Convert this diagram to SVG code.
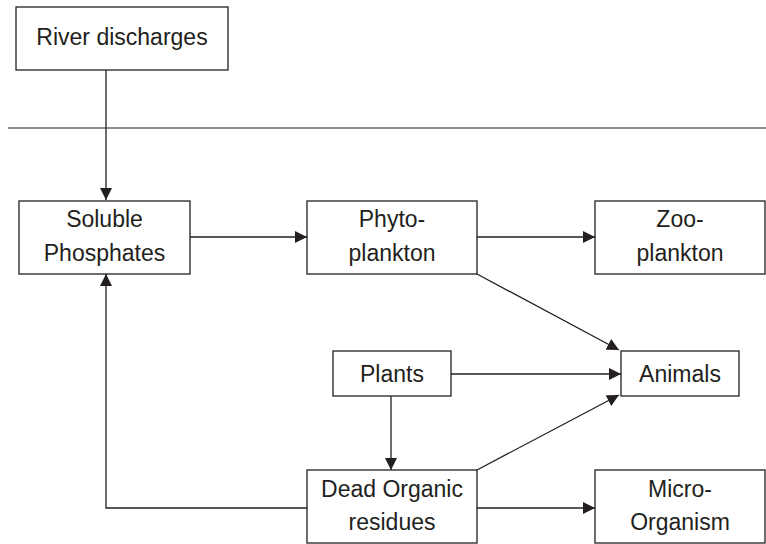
<svg xmlns="http://www.w3.org/2000/svg" width="766" height="544" viewBox="0 0 766 544">
<defs>
<marker id="ah" viewBox="0 0 12 12" refX="12" refY="6" markerWidth="12" markerHeight="12" markerUnits="userSpaceOnUse" orient="auto">
<path d="M0,0 L12,6 L0,12 Z" fill="#231f20"/>
</marker>
<style>
.box{fill:#fff;stroke:#231f20;stroke-width:1.3}
.t{font-family:"Liberation Sans",Arial,sans-serif;font-size:23px;fill:#231f20;text-anchor:middle}
.c{fill:none;stroke:#231f20;stroke-width:1.3}
</style>
</defs>
<rect width="766" height="544" fill="#fff"/>
<line x1="8" y1="128" x2="766" y2="128" stroke="#231f20" stroke-width="1.2"/>
<g id="connectors">
<path class="c" d="M106,70 V200" marker-end="url(#ah)"/>
<path class="c" d="M190,237 H307" marker-end="url(#ah)"/>
<path class="c" d="M477,237 H595" marker-end="url(#ah)"/>
<path class="c" d="M477,274 L619,350" marker-end="url(#ah)"/>
<path class="c" d="M451,374 H621" marker-end="url(#ah)"/>
<path class="c" d="M477,470 L619,395" marker-end="url(#ah)"/>
<path class="c" d="M391,396 V470" marker-end="url(#ah)"/>
<path class="c" d="M477,508 H595" stroke-width="2" marker-end="url(#ah)"/>
<path class="c" d="M307,508 H106 V274" marker-end="url(#ah)"/>
</g>
<g id="river"><rect class="box" x="16" y="7" width="212" height="63"/><text class="t" x="122" y="45">River discharges</text></g>
<g id="soluble"><rect class="box" x="19" y="201" width="171" height="73"/><text class="t" x="104.5" y="227">Soluble</text><text class="t" x="104.5" y="261">Phosphates</text></g>
<g id="phyto"><rect class="box" x="307" y="201" width="170" height="73"/><text class="t" x="392" y="227">Phyto-</text><text class="t" x="392" y="261">plankton</text></g>
<g id="zoo"><rect class="box" x="595" y="201" width="170" height="73"/><text class="t" x="680" y="227">Zoo-</text><text class="t" x="680" y="261">plankton</text></g>
<g id="plants"><rect class="box" x="333" y="351" width="118" height="45"/><text class="t" x="392" y="382">Plants</text></g>
<g id="animals"><rect class="box" x="621" y="351" width="118" height="45"/><text class="t" x="680" y="382">Animals</text></g>
<g id="dead"><rect class="box" x="307" y="470" width="170" height="73"/><text class="t" x="392" y="497">Dead Organic</text><text class="t" x="392" y="530">residues</text></g>
<g id="micro"><rect class="box" x="595" y="470" width="170" height="73"/><text class="t" x="680" y="497">Micro-</text><text class="t" x="680" y="530">Organism</text></g>
</svg>
